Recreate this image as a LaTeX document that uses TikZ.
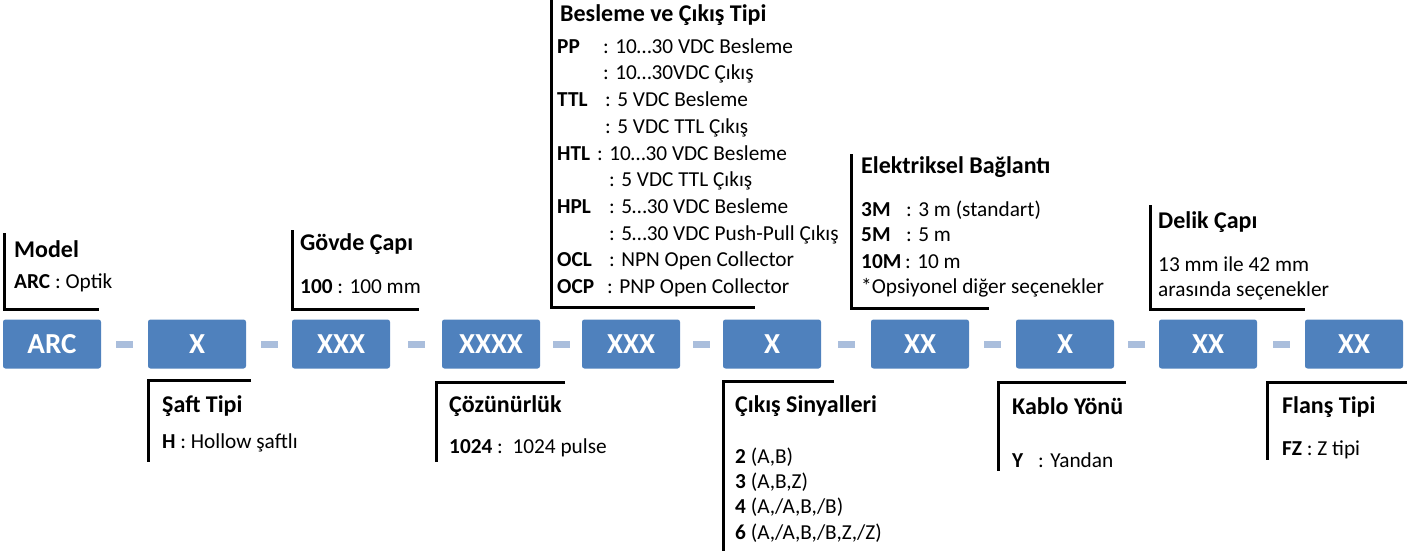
\documentclass[tikz,border=0pt]{standalone}
\usepackage{fontspec}
\setmainfont{Carlito}
\usetikzlibrary{calc}
\definecolor{boxblue}{RGB}{79,129,189}
\definecolor{dashblue}{RGB}{170,190,220}
\tikzset{
  codebox/.style={fill=boxblue, rounded corners=2.5pt, minimum width=98pt, minimum height=49pt, inner sep=0pt, text=white, font=\fontsize{29}{32}\selectfont\bfseries},
  sepbar/.style={fill=dashblue, minimum width=17pt, minimum height=7pt, inner sep=0pt},
  brk/.style={line width=3pt, line join=miter},
  ttl/.style={anchor=base west, inner sep=0pt, font=\fontsize{24}{28}\selectfont\bfseries},
  txt/.style={anchor=base west, inner sep=0pt, font=\fontsize{21.3}{25}\selectfont},
  lbl/.style={anchor=base west, inner sep=0pt, font=\fontsize{21.3}{25}\selectfont\bfseries},
}
\begin{document}
\begin{tikzpicture}[x=1pt,y=-1pt]
\useasboundingbox (0,0) rectangle (1416,551);
% code boxes
\foreach \n/\l/\t in {1/3/ARC, 2/148/X, 3/292/XXX, 4/442/XXXX, 5/582/XXX, 6/723/X, 7/871/XX, 8/1016/X, 9/1159/XX, 10/1305/XX}{
  \node[codebox] (b\n) at (\l+49,344) {\t};
}
\foreach \a/\b in {1/2,2/3,3/4,4/5,5/6,6/7,7/8,8/9,9/10}{
  \node[sepbar] (d\a) at ($(b\a.east)!0.5!(b\b.west)$) {};
}
% top brackets
\draw[brk] (4.5,233) -- (4.5,309.5) -- (99,309.5);
\draw[brk] (292.3,230) -- (292.3,309.5) -- (419,309.5);
\draw[brk] (551.5,0) -- (551.5,307.5) -- (755,307.5);
\draw[brk] (851,154) -- (851,308.5) -- (989,308.5);
\draw[brk] (1150,205) -- (1150,309.3) -- (1305,309.3);
% bottom brackets
\draw[brk] (251,380) -- (148.3,380) -- (148.3,462);
\draw[brk] (565,382.7) -- (436.7,382.7) -- (436.7,462);
\draw[brk] (834,381) -- (723.3,381) -- (723.3,551);
\draw[brk] (1126,382.3) -- (998.3,382.3) -- (998.3,471);
\draw[brk] (1407,382.7) -- (1267.3,382.7) -- (1267.3,460);
% Model
\node[ttl] (mT) at (14,257) {Model};
\node[txt] (m1) at (14,288) {\textbf{ARC} : Optik};
% Govde
\node[ttl] (gT) at (300,250) {Gövde Çapı};
\node[txt] (g1) at (300,293) {\textbf{100} : 100 mm};
% Besleme
\node[ttl] (bT) at (560,22) {Besleme ve Çıkış Tipi};
\node[lbl] (bl0) at (557,53.3) {PP};
\node[txt] (bv0) at (603,53.3) {: 10…30 VDC Besleme};
\node[txt] (bv1) at (603,80.0) {: 10…30VDC Çıkış};
\node[lbl] (bl2) at (557,106.7) {TTL};
\node[txt] (bv2) at (605,106.7) {: 5 VDC Besleme};
\node[txt] (bv3) at (605,133.4) {: 5 VDC TTL Çıkış};
\node[lbl] (bl4) at (557,160.1) {HTL};
\node[txt] (bv4) at (597,160.1) {: 10…30 VDC Besleme};
\node[txt] (bv5) at (609,186.8) {: 5 VDC TTL Çıkış};
\node[lbl] (bl6) at (557,213.5) {HPL};
\node[txt] (bv6) at (609,213.5) {: 5…30 VDC Besleme};
\node[txt] (bv7) at (609,240.2) {: 5…30 VDC Push-Pull Çıkış};
\node[lbl] (bl8) at (557,266.9) {OCL};
\node[txt] (bv8) at (609,266.9) {: NPN Open Collector};
\node[lbl] (bl9) at (557,293.6) {OCP};
\node[txt] (bv9) at (607,293.6) {: PNP Open Collector};
% Elektriksel
\node[ttl] (eT) at (861,173) {Elektriksel Bağlantı};
\node[lbl] (el1) at (861,216.7) {3M};
\node[txt] (ev1) at (906,216.7) {: 3 m (standart)};
\node[lbl] (el2) at (861,241.7) {5M};
\node[txt] (ev2) at (906,241.7) {: 5 m};
\node[lbl] (el3) at (861,268.3) {10M};
\node[txt] (ev3) at (905,268.3) {: 10 m};
\node[txt] (ev4) at (861,293.3) {*Opsiyonel diğer seçenekler};
% Delik
\node[ttl] (kT) at (1158,228) {Delik Çapı};
\node[txt] (k1) at (1158,271) {13 mm ile 42 mm};
\node[txt] (k2) at (1158,296) {arasında seçenekler};
% Saft
\node[ttl] (sT) at (162,412) {Şaft Tipi};
\node[txt] (s1) at (162,448) {\textbf{H} : Hollow şaftlı};
% Cozunurluk
\node[ttl] (cT) at (449,412) {Çözünürlük};
\node[txt] (c1) at (449,453) {\textbf{1024} :\ \ 1024 pulse};
% Cikis Sinyalleri
\node[ttl] (oT) at (735,412) {Çıkış Sinyalleri};
\node[txt] (o1) at (735,463) {\textbf{2} (A,B)};
\node[txt] (o2) at (735,488) {\textbf{3} (A,B,Z)};
\node[txt] (o3) at (735,513) {\textbf{4} (A,/A,B,/B)};
\node[txt] (o4) at (735,539) {\textbf{6} (A,/A,B,/B,Z,/Z)};
% Kablo
\node[ttl] (yT) at (1012,414) {Kablo Yönü};
\node[lbl] (yl) at (1012,467) {Y};
\node[txt] (yv) at (1038,467) {: Yandan};
% Flans
\node[ttl] (fT) at (1282,413) {Flanş Tipi};
\node[txt] (f1) at (1282,455) {\textbf{FZ} : Z tipi};
\end{tikzpicture}
\end{document}
